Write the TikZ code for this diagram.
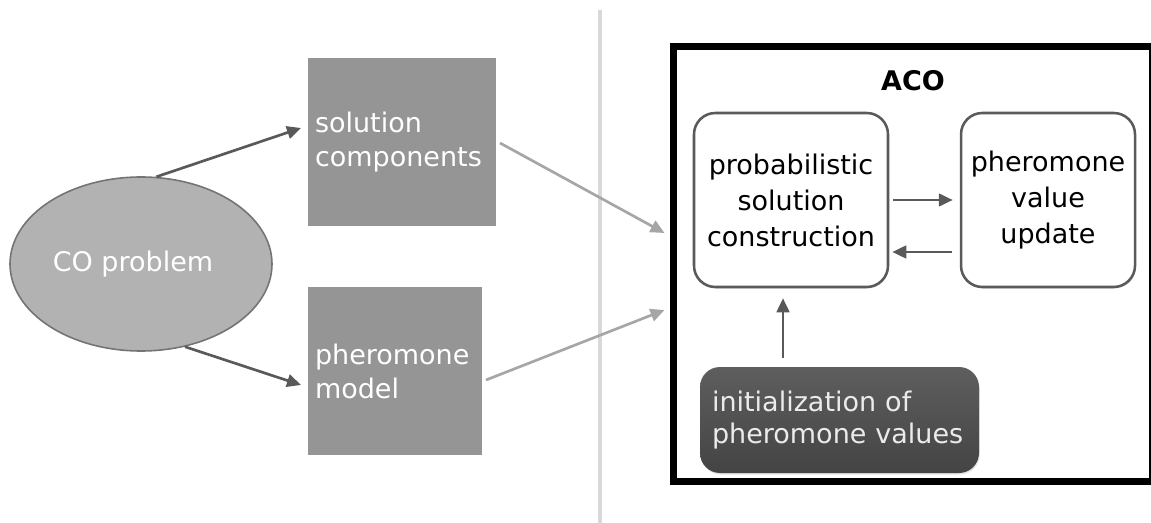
\documentclass[tikz,border=0pt]{standalone}
\usepackage{fontspec}
\setmainfont{DejaVu Sans}
\usetikzlibrary{shapes.geometric,arrows.meta,calc,shadows}
\definecolor{boxgray}{HTML}{959595}
\definecolor{ellgray}{HTML}{B2B2B2}
\definecolor{ellline}{HTML}{747474}
\definecolor{arrdark}{HTML}{595959}
\definecolor{arrlight}{HTML}{A6A6A6}
\definecolor{divgray}{HTML}{D9D9D9}
\definecolor{rbline}{HTML}{5A5A5A}
\definecolor{ibtop}{HTML}{5E5E5E}
\definecolor{ibbot}{HTML}{444444}
\tikzset{
  txt/.style={font=\fontsize{20.25pt}{25.5pt}\selectfont},
  graybox/.style={txt, rectangle, fill=boxgray, draw=white, line width=3pt, text=white,
    align=left, inner xsep=6.75pt, inner ysep=0pt,
    drop shadow={shadow xshift=0.6pt, shadow yshift=-1.2pt, opacity=0.25}},
  coell/.style={txt, ellipse, fill=ellgray, draw=ellline, line width=1.2pt, text=white,
    minimum width=196.5pt, minimum height=130.5pt, inner sep=0pt},
  rbox/.style={font=\fontsize{20.25pt}{27pt}\selectfont, rectangle, rounded corners=16pt, fill=white, draw=rbline, line width=1.9pt,
    align=center, inner sep=0pt, minimum height=130.5pt, text=black,
    drop shadow={shadow xshift=0.6pt, shadow yshift=-1.2pt, opacity=0.2}},
  ibox/.style={font=\fontsize{20.25pt}{24.5pt}\selectfont, rectangle, rounded corners=15pt, top color=ibtop, bottom color=ibbot,
    draw=none, text=white!92!black, align=left, inner xsep=9pt, inner ysep=0pt,
    minimum width=209.25pt, minimum height=79.5pt, text width=191.25pt,
    drop shadow={shadow xshift=0.6pt, shadow yshift=-1.2pt, opacity=0.2}},
  acobox/.style={rectangle, draw=black, line width=5.25pt, fill=white,
    minimum width=359.6pt, minimum height=325.5pt, inner sep=0pt,
    drop shadow={shadow xshift=0.8pt, shadow yshift=-1.5pt, opacity=0.2}},
  arrd/.style={draw=arrdark, line width=2pt, -{Triangle[length=10.5pt,width=9.5pt]}},
  arrl/.style={draw=arrlight, line width=2pt, -{Triangle[length=10.5pt,width=9.5pt]}},
}
\begin{document}
\begin{tikzpicture}[x=0.75pt,y=-0.75pt]
\useasboundingbox (0,0) rectangle (1151,523);
% divider
\draw[divgray, line width=3pt] (600,10) -- (600,523);
% left part
\node[coell] (co) at (141,264) {\hspace*{-12pt}CO problem};
\node[graybox, minimum width=144pt, minimum height=129pt, text width=130.5pt] (sc) at (402,142) {solution\\components};
\node[graybox, minimum width=133.5pt, minimum height=129pt, text width=120pt] (pm) at (395,371) {pheromone\\model};
% ACO box
\node[acobox] (aco) at (912.75,264) {};
\node[txt, font=\fontsize{20.25pt}{26pt}\selectfont\bfseries, text=black, inner sep=0pt] (acot) at (913,81) {ACO};
\node[rbox, minimum width=145.5pt] (pb) at (791,200) {probabilistic\\solution\\construction};
\node[rbox, minimum width=130.5pt] (pu) at (1048,200) {pheromone\\value\\update};
\node[ibox] (ib) at (839.5,420) {initialization of\\pheromone values};
% connectors
\draw[arrd] (co.80) -- ($(sc.west)+(-3,-14)$);
\draw[arrd] (co.-62) -- ($(pm.west)+(-3,14)$);
\draw[arrl] ($(sc.east)+(0,1)$) -- ($(aco.west)+(-5,-31)$);
\draw[arrl] ($(pm.east)+(0,9)$) -- ($(aco.west)+(-5,46)$);
\draw[arrd] ($(pb.east)+(4,0)$) -- ($(pu.west)+(-7,0)$);
\draw[arrd] ($(pu.west)+(-8,52)$) -- ($(pb.east)+(3,52)$);
\coordinate (upx) at (783,0);
\draw[arrd] ($(ib.north -| upx)+(0,-9)$) -- ($(pb.south -| upx)+(0,10)$);
\end{tikzpicture}
\end{document}
